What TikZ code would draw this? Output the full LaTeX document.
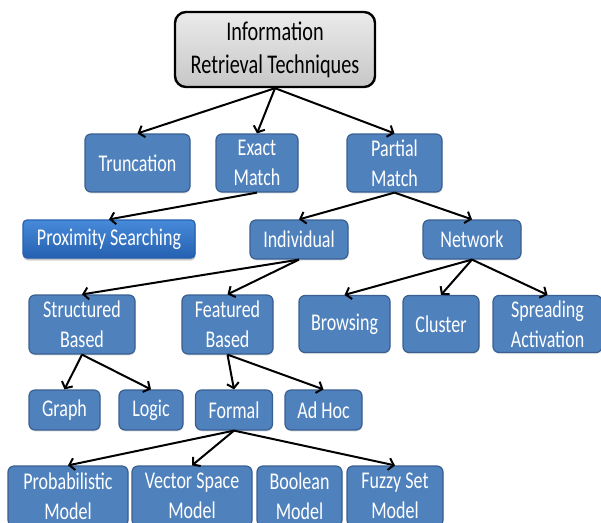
\documentclass[tikz,border=0pt]{standalone}
\usepackage{fontspec}
\setmainfont{Carlito}[FakeStretch=0.75]
\usetikzlibrary{arrows.meta, shadows}
\definecolor{irblue}{RGB}{79,129,189}
\definecolor{irline}{RGB}{58,96,145}
\definecolor{proxtop}{RGB}{72,138,218}
\definecolor{proxbot}{RGB}{38,96,176}

\begin{document}
\begin{tikzpicture}[x=1pt, y=-1pt,
  sz/.style 2 args={minimum width=#1pt, minimum height=#2pt},
  box/.style={draw=irline, line width=1.2pt, fill=irblue, rounded corners=6pt,
    text=white, align=center, inner sep=0pt, font=\fontsize{24}{30}\selectfont,
    drop shadow={opacity=0.2, shadow xshift=0.5pt, shadow yshift=-1.5pt}},
  rootbox/.style={draw=black, line width=2.4pt, top color=black!8, bottom color=black!22,
    rounded corners=11pt, align=center, inner sep=0pt, font=\fontsize{27}{33}\selectfont},
  proxbox/.style={box, draw=proxbot, top color=proxtop, bottom color=proxbot, rounded corners=4pt,
    drop shadow={opacity=0.35, shadow xshift=0.5pt, shadow yshift=-2.5pt}},
  link/.style={line width=2pt, -{Straight Barb[length=5pt, width=12pt, line width=2pt]}}
]
  \useasboundingbox (0,0) rectangle (601,522);

  \node[rootbox, sz={200}{75}] (root) at (275,49.5) {Information\\Retrieval Techniques};

  \node[box, sz={105}{58}] (trunc) at (137.5,163) {Truncation};
  \node[box, sz={82}{58}] (exact) at (257,163) {Exact\\Match};
  \node[box, sz={95}{58}] (partial) at (394.5,163) {Partial\\Match};

  \node[proxbox, sz={172}{38}] (prox) at (109,239) {Proximity Searching};
  \node[box, sz={98}{39}] (indiv) at (299,239.5) {Individual};
  \node[box, sz={98}{39}] (net) at (472,239.5) {Network};

  \node[box, sz={106}{59}] (struct) at (82,324.5) {Structured\\Based};
  \node[box, sz={91}{59}] (feat) at (227.5,324.5) {Featured\\Based};
  \node[box, sz={91}{57}] (brows) at (344.5,324) {Browsing};
  \node[box, sz={76}{57}] (clust) at (441,324) {Cluster};
  \node[box, sz={109}{57}] (spread) at (547.5,324) {Spreading\\Activation};

  \node[box, sz={71}{40}] (graph) at (64.5,410) {Graph};
  \node[box, sz={64}{40}] (logic) at (151,410) {Logic};
  \node[box, sz={77}{40}] (formal) at (234,410) {Formal};
  \node[box, sz={77}{40}] (adhoc) at (323.5,410) {Ad Hoc};

  \node[box, sz={120}{60}] (prob) at (68,496) {Probabilistic\\Model};
  \node[box, sz={120}{60}] (vector) at (192,496) {Vector Space\\Model};
  \node[box, sz={85}{60}] (bool) at (299.5,496) {Boolean\\Model};
  \node[box, sz={96}{60}] (fuzzy) at (395,496) {Fuzzy Set\\Model};

  \foreach \a/\b in {root/trunc, root/exact, root/partial, exact/prox,
      partial/indiv, partial/net, indiv/struct, indiv/feat,
      net/brows, net/clust, net/spread, struct/graph, struct/logic,
      feat/formal, feat/adhoc, formal/prob, formal/vector, formal/fuzzy}
    \draw[link] (\a.south) -- (\b.north);
\end{tikzpicture}
\end{document}
